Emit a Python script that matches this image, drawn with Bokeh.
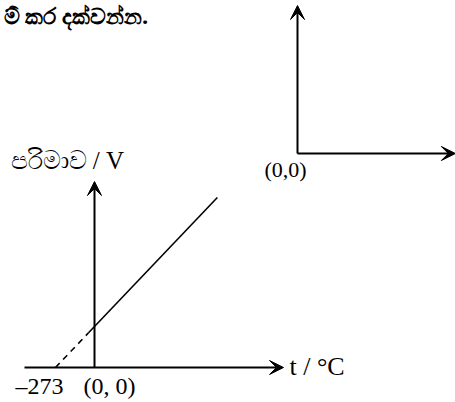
from bokeh.plotting import figure
from bokeh.models import Range1d, Arrow, VeeHead, Label
from bokeh.embed import file_html
from bokeh.resources import INLINE

# Data (t in degC, V arbitrary units)
t_dashed = [-273, -40]
v_dashed = [0, 35]
t_solid = [-40, 860]
v_solid = [35, 170]
abs_zero_label = "\u2013273"
origin_label = "(0, 0)"
x_label = "t / \u00b0C"
y_label = "\u0db4\u0dbb\u0dd2\u0db8\u0dcf\u0dc0 / V"
top_text = "\u0db8\u0dca \u0d9a\u0dbb \u0daf\u0d9a\u0dca\u0dc0\u0db1\u0dca\u0db1."

p = figure(width=455, height=402, x_range=Range1d(-658, 2527), y_range=Range1d(-35, 367),
           output_backend="svg", toolbar_location=None, min_border=0)
p.axis.visible = False
p.grid.visible = False
p.outline_line_color = None
p.background_fill_color = "white"

# main graph axes
p.add_layout(Arrow(end=VeeHead(size=14, fill_color="black", line_color="black"),
                   x_start=-490, y_start=0, x_end=1323, y_end=0, line_width=2))
p.add_layout(Arrow(end=VeeHead(size=14, fill_color="black", line_color="black"),
                   x_start=0, y_start=0, x_end=0, y_end=186, line_width=2))

p.line(t_dashed, v_dashed, line_color="black", line_width=1.6, line_dash="6 5")
p.line(t_solid, v_solid, line_color="black", line_width=1.6)

# empty graph (top right)
p.add_layout(Arrow(end=VeeHead(size=14, fill_color="black", line_color="black"),
                   x_start=1421, y_start=214, x_end=1421, y_end=362, line_width=2))
p.add_layout(Arrow(end=VeeHead(size=14, fill_color="black", line_color="black"),
                   x_start=1421, y_start=214, x_end=2526, y_end=214, line_width=2))

serif = "Liberation Serif"
p.add_layout(Label(x=-637, y=353, text=top_text, text_align="left", text_baseline="middle",
                   text_font="Noto Sans", text_font_size="22px", text_font_style="bold",
                   text_color="black"))
p.add_layout(Label(x=-588, y=207, text=y_label, text_baseline="middle",
                   text_font=serif, text_font_size="25px", text_color="black"))
p.add_layout(Label(x=1365, y=1, text=x_label, text_baseline="middle",
                   text_font=serif, text_font_size="26px", text_color="black"))
p.add_layout(Label(x=-553, y=-5, text=abs_zero_label, text_baseline="top",
                   text_font=serif, text_font_size="24px", text_color="black"))
p.add_layout(Label(x=-77, y=-5, text=origin_label, text_baseline="top",
                   text_font=serif, text_font_size="24px", text_color="black"))
p.add_layout(Label(x=1190, y=211, text="(0,0)", text_baseline="top",
                   text_font=serif, text_font_size="22px", text_color="black"))

open("out.html", "w").write(file_html(p, INLINE))
